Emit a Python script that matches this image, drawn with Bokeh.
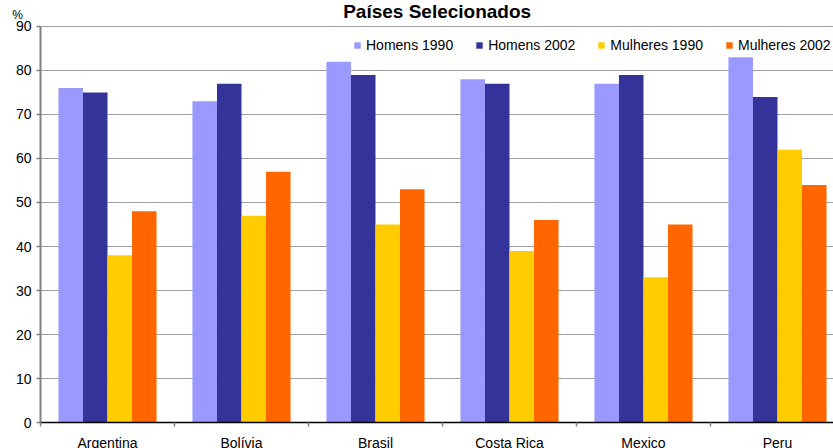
from bokeh.plotting import figure
from bokeh.models import FixedTicker, Range1d, Label, ColumnDataSource, Legend, LegendItem
from bokeh.embed import file_html
from bokeh.resources import INLINE

# Taxa de participação (%) por país, sexo e ano
countries = ["Argentina", "Bolívia", "Brasil", "Costa Rica", "Mexico", "Peru"]
homens_1990 = [76, 73, 82, 78, 77, 83]
homens_2002 = [75, 77, 79, 77, 79, 74]
mulheres_1990 = [38, 47, 45, 39, 33, 62]
mulheres_2002 = [48, 57, 53, 46, 45, 54]
y_ticks = [0, 10, 20, 30, 40, 50, 60, 70, 80, 90]

series = [
    ("Homens 1990", homens_1990, "#9999FF"),
    ("Homens 2002", homens_2002, "#333399"),
    ("Mulheres 1990", mulheres_1990, "#FFCC00"),
    ("Mulheres 2002", mulheres_2002, "#FF6600"),
]

FONT = "Liberation Sans"
bar_w = 0.183
x_end = 5.918

# a área de desenho ocupa a janela inteira; os eixos ficam fixos em x = 0 e y = 0
p = figure(width=833, height=448, output_backend="svg", toolbar_location=None,
           x_range=Range1d(-0.2985, x_end), y_range=Range1d(-5.909, 95.909),
           min_border_left=0, min_border_right=0, min_border_top=0, min_border_bottom=0)
p.outline_line_color = None
p.background_fill_color = "white"
p.border_fill_color = "white"
p.xgrid.grid_line_color = None
p.ygrid.grid_line_color = None

# linhas de grade horizontais, só à direita do eixo y
p.segment(x0=[0] * len(y_ticks), x1=[x_end] * len(y_ticks), y0=y_ticks, y1=y_ticks,
          line_color="#A0A0A0", line_width=1)

centers = [i + 0.5 for i in range(len(countries))]
items = []
for k, (name, vals, color) in enumerate(series):
    xs = [c + (k - 1.5) * bar_w for c in centers]
    src = ColumnDataSource(dict(x=xs, top=vals))
    r = p.vbar(x="x", top="top", width=bar_w, bottom=0, source=src,
               fill_color=color, line_color=None)
    items.append(LegendItem(label=name, renderers=[r]))

legend = Legend(items=items, orientation="horizontal", location=(353, 395),
                glyph_width=8, glyph_height=8, label_standoff=5, spacing=22,
                label_text_font=FONT, label_text_font_size="14px", label_height=16,
                label_text_color="black",
                padding=0, margin=0, border_line_color=None, background_fill_alpha=0)
p.add_layout(legend)

# eixo x: nomes no centro de cada país, marcas nas divisões
p.xaxis.fixed_location = 0
p.xaxis.bounds = (0, x_end)
p.xaxis.ticker = FixedTicker(ticks=centers, minor_ticks=list(range(len(countries) + 1)))
p.xaxis.major_label_overrides = {c: name for c, name in zip(centers, countries)}
p.xaxis.major_label_text_font = FONT
p.xaxis.major_label_text_font_size = "14px"
p.xaxis.major_label_text_color = "black"
p.xaxis.major_label_standoff = 8
p.xaxis.major_tick_out = 0
p.xaxis.major_tick_in = 0
p.xaxis.minor_tick_out = 4
p.xaxis.minor_tick_in = 0
p.xaxis.minor_tick_line_color = "#808080"
p.xaxis.minor_tick_line_width = 1.5
p.xaxis.axis_line_color = "black"
p.xaxis.axis_line_width = 1.5

# eixo y
p.yaxis.fixed_location = 0
p.yaxis.ticker = FixedTicker(ticks=y_ticks)
p.yaxis.bounds = (0, 90)
p.yaxis.major_tick_out = 4
p.yaxis.major_tick_in = 0
p.yaxis.minor_tick_line_color = None
p.yaxis.axis_line_color = "#808080"
p.yaxis.axis_line_width = 2
p.yaxis.major_tick_line_color = "#808080"
p.yaxis.major_tick_line_width = 1.5
p.yaxis.major_label_text_font = FONT
p.yaxis.major_label_text_font_size = "14px"
p.yaxis.major_label_text_color = "black"
p.yaxis.major_label_standoff = 5

p.add_layout(Label(x=2.96, y=93.5, text="Países Selecionados", text_align="center",
                   text_baseline="alphabetic", text_font=FONT, text_font_size="19px",
                   text_font_style="bold", text_color="black"))
p.add_layout(Label(x=-0.21, y=92.6, text="%", text_align="left",
                   text_baseline="alphabetic", text_font=FONT, text_font_size="12px",
                   text_color="black"))

open("out.html", "w").write(file_html(p, INLINE))
